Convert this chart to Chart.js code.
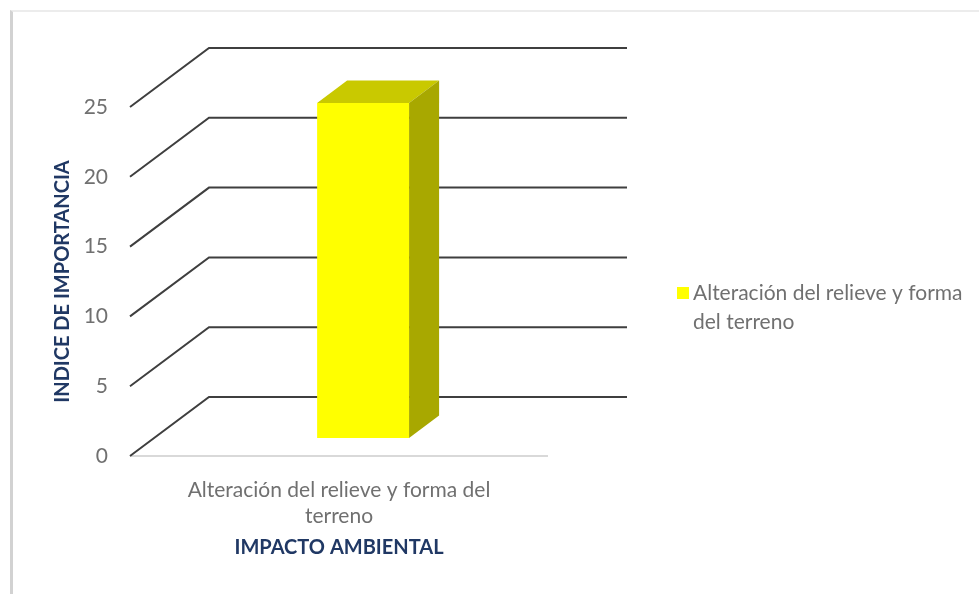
<!DOCTYPE html>
<html lang="es">
<head>
<meta charset="UTF-8">
<title>Indice de importancia - impacto ambiental</title>
<script src="https://cdn.jsdelivr.net/npm/chart.js"></script>
<style>
  html, body { margin: 0; padding: 0; background: #fff; }
  #frame {
    position: absolute; left: 10px; top: 10px; width: 969px; height: 584px;
    box-sizing: border-box; border-left: 3px solid #d2d2d2; border-top: 2px solid #ececec;
  }
  #chart { position: absolute; left: 0; top: 0; }
</style>
</head>
<body>
<div id="frame"></div>
<canvas id="chart" width="979" height="594"></canvas>
<script>
const categories = ['Alteración del relieve y forma del terreno'];
const seriesName = 'Alteración del relieve y forma del terreno';
const seriesValues = [24];
const yTicks = [0, 5, 10, 15, 20, 25];

// oblique 3D projection: offset of the back wall, bar position within the depth
const depth = { dx: 79, dy: -59 };
const barFront = 0.305, barBack = 0.685;

const FONT = 'Lato, "Open Sans", sans-serif';
const GRAY = '#707070';
const NAVY = '#203864';

function wrap(text, maxChars) {
  const lines = [];
  let cur = '';
  text.split(' ').forEach(w => {
    if (cur && (cur + ' ' + w).length > maxChars) { lines.push(cur); cur = w; }
    else cur = cur ? cur + ' ' + w : w;
  });
  if (cur) lines.push(cur);
  return lines;
}

const wall3d = {
  id: 'wall3d',
  beforeDatasetsDraw(chart) {
    const { ctx, chartArea: a, scales: { y } } = chart;
    ctx.save();
    // front edge of the floor
    ctx.strokeStyle = '#d9d9d9';
    ctx.lineWidth = 2;
    ctx.beginPath();
    ctx.moveTo(a.left, a.bottom);
    ctx.lineTo(a.right, a.bottom);
    ctx.stroke();
    // gridlines: diagonal on the side, then along the back wall
    ctx.strokeStyle = '#3f3f3f';
    ctx.lineWidth = 2;
    yTicks.forEach(v => {
      const py = y.getPixelForValue(v);
      ctx.beginPath();
      ctx.moveTo(a.left, py);
      ctx.lineTo(a.left + depth.dx, py + depth.dy);
      ctx.lineTo(a.right + depth.dx, py + depth.dy);
      ctx.stroke();
    });
    ctx.restore();
    // push the bar front faces back to their depth
    ctx.save();
    ctx.translate(depth.dx * barFront, depth.dy * barFront);
  },
  afterDatasetsDraw(chart) {
    const { ctx } = chart;
    ctx.restore();
    const ox = depth.dx * barFront, oy = depth.dy * barFront;
    const bx = depth.dx * (barBack - barFront), by = depth.dy * (barBack - barFront);
    chart.getDatasetMeta(0).data.forEach(bar => {
      const { x, y, base, width } = bar.getProps(['x', 'y', 'base', 'width'], true);
      const l = x - width / 2 + ox, r = x + width / 2 + ox;
      const t = y + oy, b = base + oy;
      ctx.save();
      ctx.fillStyle = '#c9c900';
      ctx.beginPath();
      ctx.moveTo(l, t); ctx.lineTo(l + bx, t + by); ctx.lineTo(r + bx, t + by); ctx.lineTo(r, t);
      ctx.closePath(); ctx.fill();
      ctx.fillStyle = '#a8a800';
      ctx.beginPath();
      ctx.moveTo(r, t); ctx.lineTo(r + bx, t + by); ctx.lineTo(r + bx, b + by); ctx.lineTo(r, b);
      ctx.closePath(); ctx.fill();
      ctx.restore();
    });
  },
  afterDraw(chart) {
    // legend on the right
    const { ctx, chartArea: a } = chart;
    const lx = a.right + 129, ly = a.top + 180;
    ctx.save();
    ctx.fillStyle = chart.data.datasets[0].backgroundColor;
    ctx.fillRect(lx, ly, 12, 12);
    ctx.fillStyle = GRAY;
    ctx.font = '21px ' + FONT;
    ctx.textBaseline = 'middle';
    wrap(seriesName, 30).forEach((line, i) => {
      ctx.fillText(line, lx + 16, ly + 6 + i * 29);
    });
    ctx.restore();
  }
};

new Chart(document.getElementById('chart'), {
  type: 'bar',
  data: {
    labels: categories,
    datasets: [{
      label: seriesName,
      data: seriesValues,
      backgroundColor: '#ffff00',
      borderWidth: 0,
      categoryPercentage: 0.22,
      barPercentage: 1
    }]
  },
  options: {
    responsive: false,
    animation: false,
    layout: { padding: { left: 51, right: 431, top: 107, bottom: 34 } },
    plugins: {
      legend: { display: false },
      tooltip: { enabled: false }
    },
    scales: {
      x: {
        grid: { display: false },
        border: { display: false },
        afterFit(scale) { scale.height = 104; },
        ticks: {
          color: GRAY,
          padding: 13,
          maxRotation: 0,
          font: { family: FONT, size: 21, lineHeight: 1.24 },
          callback(v) { return wrap(this.getLabelForValue(v), 34); }
        },
        title: {
          display: true,
          text: 'IMPACTO AMBIENTAL',
          color: NAVY,
          padding: { top: 0, bottom: 0 },
          font: { family: FONT, size: 20, weight: 'bold', lineHeight: 1.2 }
        }
      },
      y: {
        min: 0,
        max: 25,
        grid: { display: false },
        border: { display: false },
        afterFit(scale) { scale.width = 79; },
        afterBuildTicks(scale) { scale.ticks = yTicks.map(v => ({ value: v })); },
        ticks: {
          color: GRAY,
          padding: 14,
          font: { family: FONT, size: 21 }
        },
        title: {
          display: true,
          text: 'INDICE DE IMPORTANCIA',
          color: NAVY,
          padding: { top: 0, bottom: 0 },
          font: { family: FONT, size: 20, weight: 'bold', lineHeight: 1.2 }
        }
      }
    }
  },
  plugins: [wall3d]
});
</script>
</body>
</html>
